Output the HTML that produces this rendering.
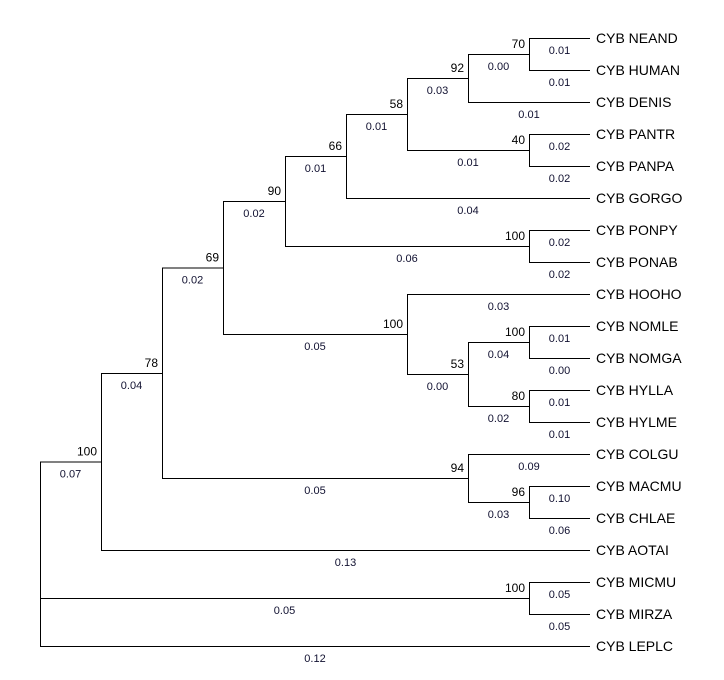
<!DOCTYPE html>
<html><head><meta charset="utf-8"><style>
body{margin:0;background:#fff;}
svg{display:block;font-family:"Liberation Sans",Arial,sans-serif;}
</style></head><body>
<svg id="tree" width="724" height="680" viewBox="0 0 724 680" xmlns="http://www.w3.org/2000/svg"></svg>
<script>
const leafNames = ["NEAND","HUMAN","DENIS","PANTR","PANPA","GORGO","PONPY","PONAB","HOOHO","NOMLE","NOMGA","HYLLA","HYLME","COLGU","MACMU","CHLAE","AOTAI","MICMU","MIRZA","LEPLC"];
const leafLengths = [0.01,0.01,0.01,0.02,0.02,0.04,0.02,0.02,0.03,0.01,0.00,0.01,0.01,0.09,0.10,0.06,0.13,0.05,0.05,0.12];
function L(i){return {leaf:i,len:leafLengths[i]};}
function N(bs,len,ch){return {bs:bs,len:len,ch:ch};}
const tree = N(null,null,[
  N(100,0.07,[
    N(78,0.04,[
      N(69,0.02,[
        N(90,0.02,[
          N(66,0.01,[
            N(58,0.01,[
              N(92,0.03,[N(70,0.00,[L(0),L(1)]),L(2)]),
              N(40,0.01,[L(3),L(4)])
            ]),
            L(5)
          ]),
          N(100,0.06,[L(6),L(7)])
        ]),
        N(100,0.05,[
          L(8),
          N(53,0.00,[N(100,0.04,[L(9),L(10)]),N(80,0.02,[L(11),L(12)])])
        ])
      ]),
      N(94,0.05,[L(13),N(96,0.03,[L(14),L(15)])])
    ]),
    L(16)
  ]),
  N(100,0.05,[L(17),L(18)]),
  L(19)
]);
const svg=document.getElementById('tree');
const NS="http://www.w3.org/2000/svg";
const DX=61.1, XLEAF=590, Y0=38, DY=32;
function yOf(i){return Y0+DY*i;}
function layout(n){
  if(n.leaf!==undefined){n.x=XLEAF;n.y=yOf(n.leaf);n.h=0;return;}
  n.ch.forEach(c=>layout(c));
  n.h=1+Math.max(...n.ch.map(c=>c.h));
  n.x=Math.round(XLEAF-DX*n.h);
  n.y=(n.ch[0].y+n.ch[n.ch.length-1].y)/2;
}
layout(tree);
function line(x1,y1,x2,y2,name){
  const l=document.createElementNS(NS,'line');
  l.setAttribute('x1',x1);l.setAttribute('y1',y1);l.setAttribute('x2',x2);l.setAttribute('y2',y2);
  l.setAttribute('stroke','#000');l.setAttribute('stroke-width','1');l.setAttribute('shape-rendering','crispEdges');
  
  
  svg.appendChild(l);
}
function text(x,y,s,anchor,size,name,color){
  const t=document.createElementNS(NS,'text');
  t.setAttribute('x',x);t.setAttribute('y',y);t.setAttribute('text-anchor',anchor);
  t.setAttribute('font-size',size);t.setAttribute('fill',color||'#000');
  t.textContent=s;
  
  
  svg.appendChild(t);
}
function draw(n){
  if(!n.ch) return;
  const ys=n.ch.map(c=>c.y);
  line(n.x+0.5,Math.min(...ys),n.x+0.5,Math.max(...ys),'node-vertical');
  n.ch.forEach(c=>{
    line(n.x,c.y+0.5,c.x,c.y+0.5,'branch');
    text((n.x+c.x)/2,c.y+16,c.len.toFixed(2),'middle',11,'branch-length','#101030');
    if(c.leaf!==undefined){
      text(596,c.y+5,'CYB '+leafNames[c.leaf],'start',14,'leaf-label');
    } else {
      text(c.x-4,c.y-6,String(c.bs),'end',12,'bootstrap-value');
    }
    draw(c);
  });
}
draw(tree);
</script>
</body></html>
